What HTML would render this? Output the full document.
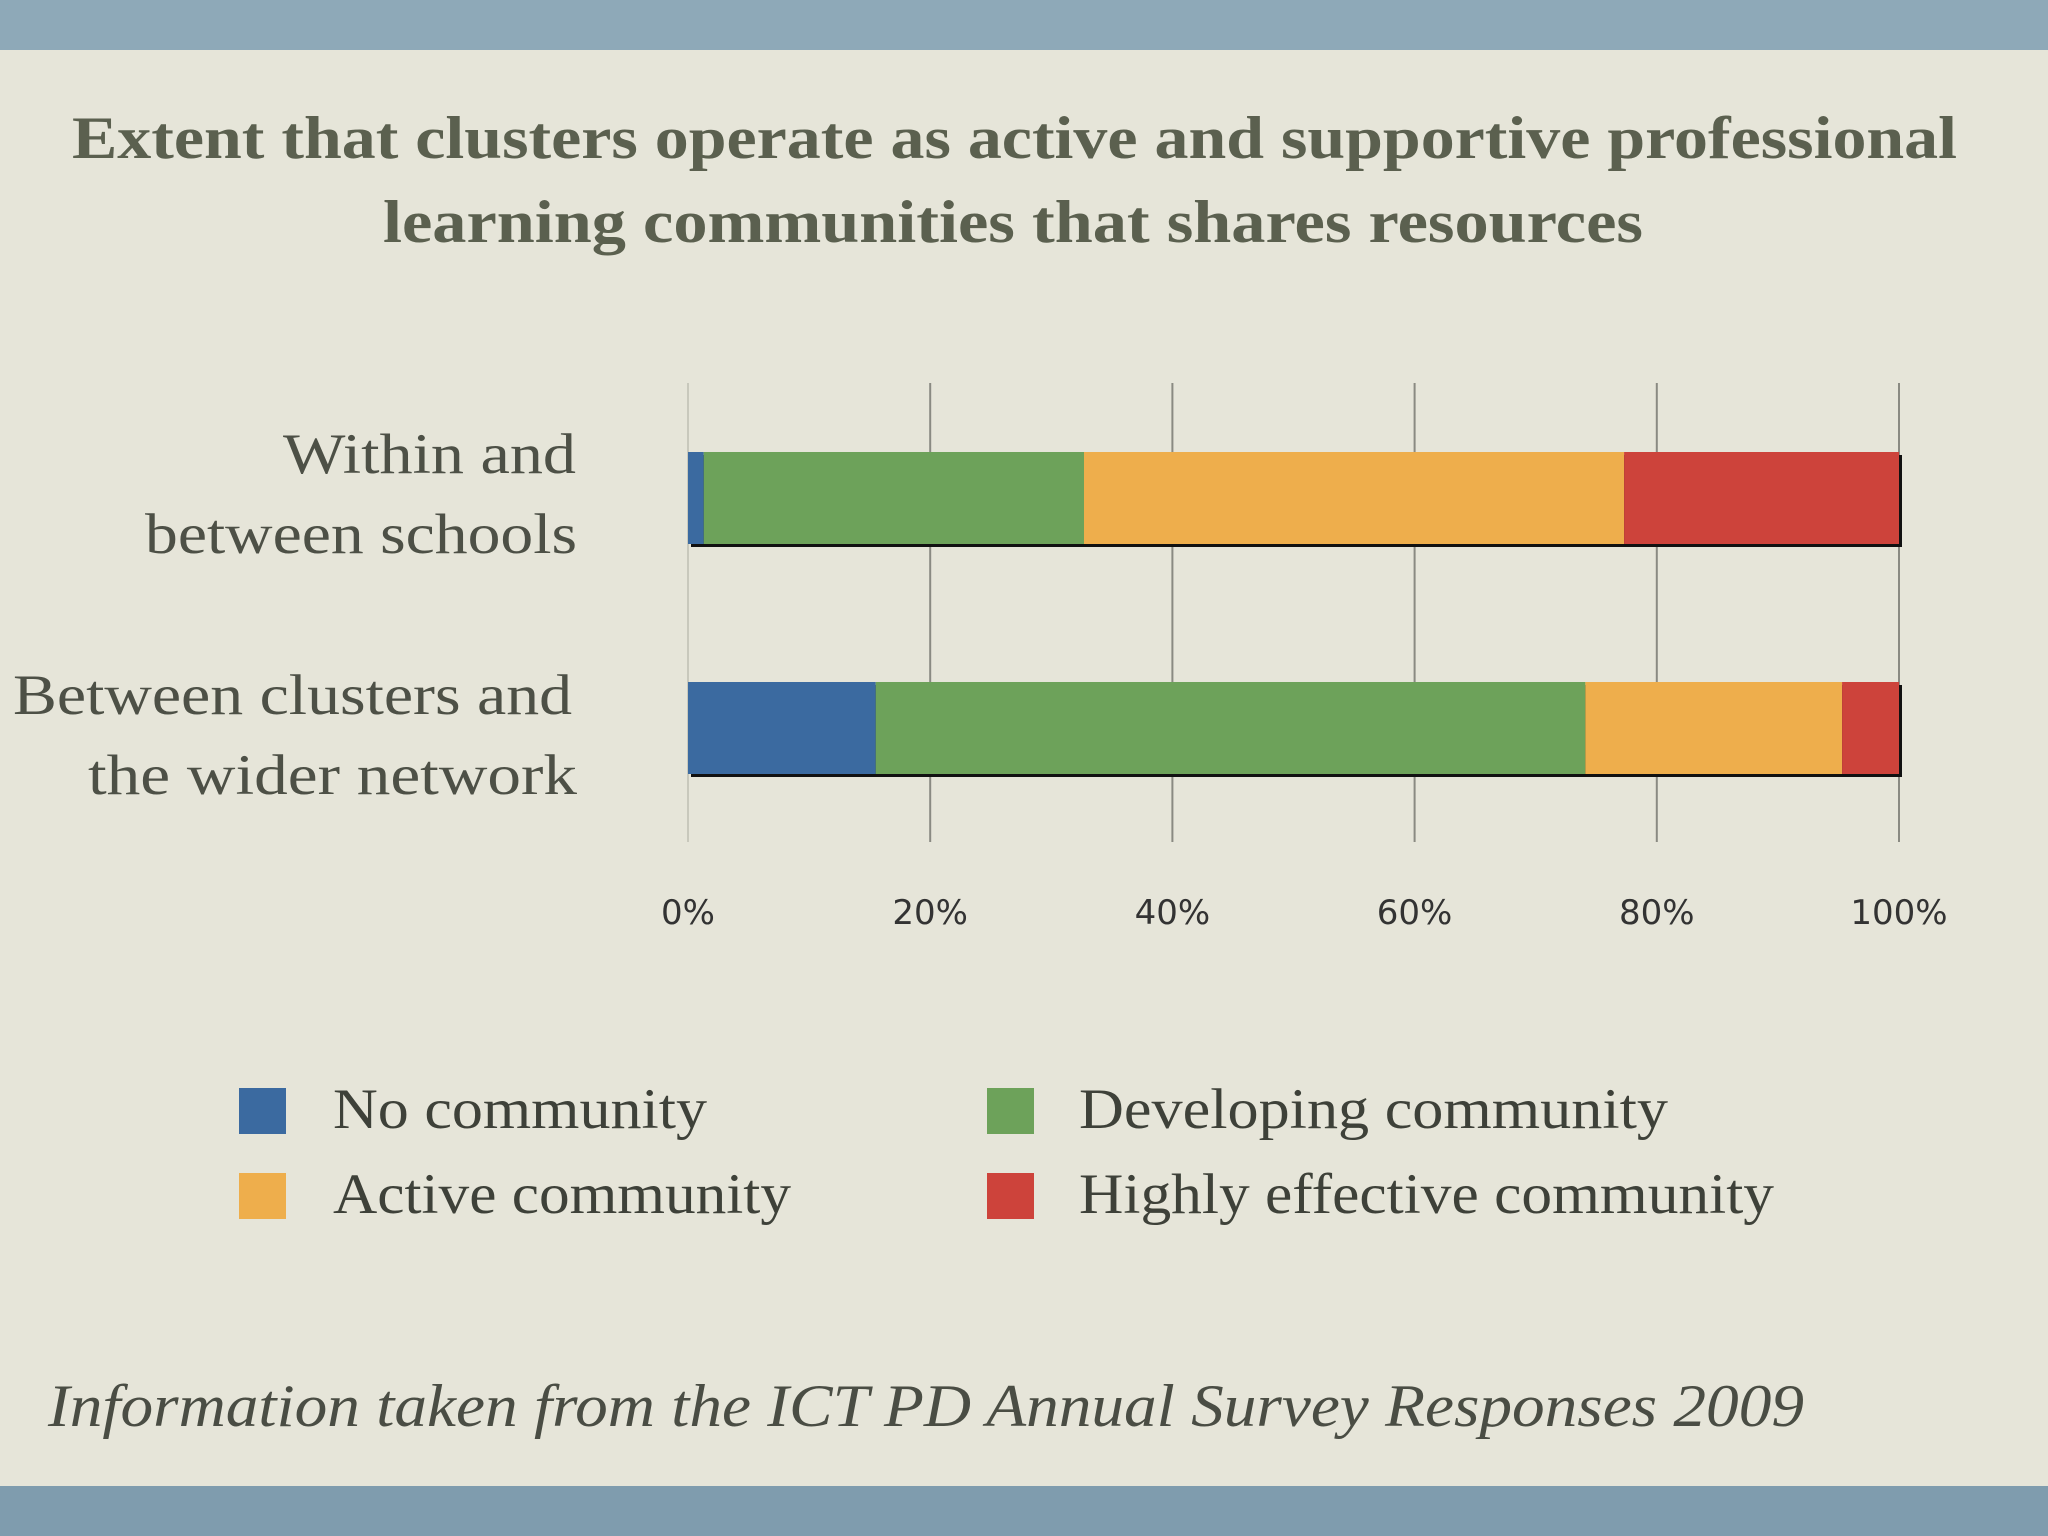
<!DOCTYPE html>
<html><head><meta charset="utf-8"><style>
html,body{margin:0;padding:0;}
body{width:2048px;height:1536px;overflow:hidden;background:#e6e5d9;}
svg{display:block;}
</style></head><body>
<svg id="chart" width="2048" height="1536" xmlns="http://www.w3.org/2000/svg">
<rect x="0" y="0" width="2048" height="1536" fill="#e6e5d9"/>
<rect x="0" y="0" width="2048" height="50" fill="#8ea9b8"/>
<rect x="0" y="1486" width="2048" height="50" fill="#7f9cae"/>
<g font-family="'Liberation Serif', serif" fill="#5b604f" font-weight="bold" font-size="60">
<text x="72" y="158" textLength="1885" lengthAdjust="spacingAndGlyphs">Extent that clusters operate as active and supportive professional</text>
<text x="383" y="242" textLength="1260" lengthAdjust="spacingAndGlyphs">learning communities that shares resources</text>
</g>
<g id="grid"></g>
<g id="bars"></g>
<g id="ticks" font-family="'DejaVu Sans', sans-serif" font-size="34" fill="#333" text-anchor="middle"></g>
<g font-family="'Liberation Serif', serif" font-size="57" fill="#4d5046">
<text x="283" y="473" textLength="293" lengthAdjust="spacingAndGlyphs">Within and</text>
<text x="145" y="553" textLength="432" lengthAdjust="spacingAndGlyphs">between schools</text>
<text x="13" y="714" textLength="559" lengthAdjust="spacingAndGlyphs">Between clusters and</text>
<text x="88" y="794" textLength="489" lengthAdjust="spacingAndGlyphs">the wider network</text>
</g>
<g font-family="'Liberation Serif', serif" font-size="57" fill="#3e4139">
<g><rect x="239" y="1088" width="47" height="46" fill="#3b6aa0"/><text x="333" y="1128" textLength="374" lengthAdjust="spacingAndGlyphs">No community</text></g>
<g><rect x="987" y="1088" width="47" height="46" fill="#6da25a"/><text x="1079" y="1128" textLength="589" lengthAdjust="spacingAndGlyphs">Developing community</text></g>
<g><rect x="239" y="1173" width="47" height="46" fill="#eeae4c"/><text x="333" y="1213" textLength="458" lengthAdjust="spacingAndGlyphs">Active community</text></g>
<g><rect x="987" y="1173" width="47" height="46" fill="#cd433b"/><text x="1079" y="1213" textLength="695" lengthAdjust="spacingAndGlyphs">Highly effective community</text></g>
</g>
<text x="48" y="1426" textLength="1756" lengthAdjust="spacingAndGlyphs" font-family="'Liberation Serif', serif" font-style="italic" font-size="60" fill="#4a4d44">Information taken from the ICT PD Annual Survey Responses 2009</text>
</svg>
<script>
const categories = ["Within and between schools", "Between clusters and the wider network"];
const seriesNames = ["No community", "Developing community", "Active community", "Highly effective community"];
const noCommunity = [1.3, 15.5];
const developing = [31.4, 58.6];
const active = [44.6, 21.2];
const highly = [22.7, 4.7];
const tickValues = [0, 20, 40, 60, 80, 100];
const tickLabels = ["0%", "20%", "40%", "60%", "80%", "100%"];

const NS = "http://www.w3.org/2000/svg";
const x0 = 688, x1 = 1899, gTop = 383, gBot = 842;
const xs = v => x0 + (x1 - x0) * v / 100;
const barY = [452, 682], barH = 92;
const colors = ["#3b6aa0", "#6da25a", "#eeae4c", "#cd433b"];
const series = [noCommunity, developing, active, highly];

const grid = document.getElementById("grid");
const ticks = document.getElementById("ticks");
tickValues.forEach((v, i) => {
  const l = document.createElementNS(NS, "line");
  l.setAttribute("x1", xs(v)); l.setAttribute("x2", xs(v));
  l.setAttribute("y1", gTop); l.setAttribute("y2", gBot);
  l.setAttribute("stroke", i === 0 ? "#c8c8bc" : "#8a8a82"); l.setAttribute("stroke-width", "2");
  
  
  grid.appendChild(l);
  const t = document.createElementNS(NS, "text");
  t.setAttribute("x", xs(v)); t.setAttribute("y", 924);
  t.textContent = tickLabels[i];
  
  
  ticks.appendChild(t);
});

const bars = document.getElementById("bars");
categories.forEach((c, ci) => {
  const y = barY[ci];
  const sh = document.createElementNS(NS, "rect");
  sh.setAttribute("x", x0 + 3); sh.setAttribute("y", y + 3);
  sh.setAttribute("width", x1 - x0); sh.setAttribute("height", barH);
  sh.setAttribute("fill", "#111");
  
  
  bars.appendChild(sh);
  let acc = 0;
  series.forEach((s, si) => {
    const r = document.createElementNS(NS, "rect");
    r.setAttribute("x", xs(acc)); r.setAttribute("y", y);
    r.setAttribute("width", xs(acc + s[ci]) - xs(acc)); r.setAttribute("height", barH);
    r.setAttribute("fill", colors[si]);
    
    
    bars.appendChild(r);
    acc += s[ci];
  });
});
</script>
</body></html>
